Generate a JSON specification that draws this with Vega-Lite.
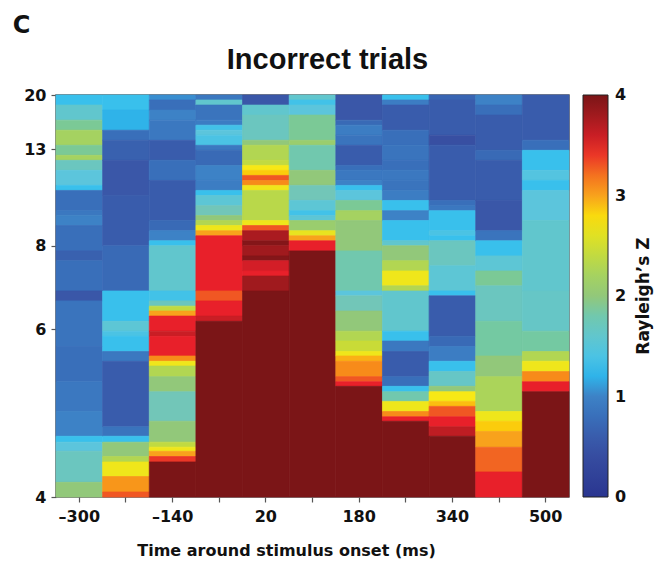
{
  "$schema": "https://vega.github.io/schema/vega-lite/v6.json",
  "width": 513,
  "height": 402,
  "autosize": {"type": "none"},
  "padding": {"left": 56, "top": 95, "right": 89, "bottom": 64},
  "background": "white",
  "config": {
    "view": {"stroke": "#5a5a5a", "strokeWidth": 1.5},
    "axis": {
      "labelFont": "DejaVu Sans", "labelFontWeight": "bold", "labelFontSize": 16, "labelColor": "#111",
      "titleFont": "DejaVu Sans", "titleFontWeight": "bold", "titleColor": "#111",
      "tickColor": "#555", "tickSize": 5, "tickWidth": 1.2, "domain": false, "grid": false
    },
    "legend": {
      "labelFont": "DejaVu Sans", "labelFontWeight": "bold", "labelFontSize": 16, "labelColor": "#111",
      "titleFont": "DejaVu Sans", "titleFontWeight": "bold", "titleColor": "#111"
    }
  },
  "title": {
    "text": "C",
    "font": "DejaVu Sans", "fontSize": 24, "fontWeight": "bold", "color": "#111",
    "anchor": "start", "frame": "bounds", "baseline": "alphabetic", "offset": -12, "dx": -11
  },
  "data": {"values": [
    {"t":-300,"a":20,"b":18.18,"z":1.3},{"t":-300,"a":18.18,"b":16,"z":1.6},{"t":-300,"a":16,"b":14.81,"z":1.9},{"t":-300,"a":14.81,"b":13.33,"z":2.2},{"t":-300,"a":13.33,"b":12.5,"z":1.9},{"t":-300,"a":12.5,"b":12.12,"z":2.2},{"t":-300,"a":12.12,"b":11.43,"z":1.7},{"t":-300,"a":11.43,"b":10.53,"z":1.5},{"t":-300,"a":10.53,"b":10.26,"z":1.3},{"t":-300,"a":10.26,"b":9.3,"z":0.8},{"t":-300,"a":9.3,"b":9.09,"z":0.9},{"t":-300,"a":9.09,"b":8.7,"z":1.0},{"t":-300,"a":8.7,"b":7.84,"z":0.8},{"t":-300,"a":7.84,"b":7.55,"z":0.65},{"t":-300,"a":7.55,"b":6.78,"z":0.8},{"t":-300,"a":6.78,"b":6.56,"z":0.55},{"t":-300,"a":6.56,"b":5.71,"z":0.85},{"t":-300,"a":5.71,"b":5.19,"z":0.8},{"t":-300,"a":5.19,"b":4.82,"z":0.9},{"t":-300,"a":4.82,"b":4.55,"z":1.0},{"t":-300,"a":4.55,"b":4.49,"z":1.3},{"t":-300,"a":4.49,"b":4.4,"z":1.5},{"t":-300,"a":4.4,"b":4.12,"z":1.7},{"t":-300,"a":4.12,"b":4,"z":2.0},
    {"t":-220,"a":20,"b":17.39,"z":1.3},{"t":-220,"a":17.39,"b":14.81,"z":1.2},{"t":-220,"a":14.81,"b":13.79,"z":0.8},{"t":-220,"a":13.79,"b":12.12,"z":0.65},{"t":-220,"a":12.12,"b":10,"z":0.55},{"t":-220,"a":10,"b":8,"z":0.6},{"t":-220,"a":8,"b":6.78,"z":0.75},{"t":-220,"a":6.78,"b":6.15,"z":1.3},{"t":-220,"a":6.15,"b":5.97,"z":1.55},{"t":-220,"a":5.97,"b":5.88,"z":1.4},{"t":-220,"a":5.88,"b":5.63,"z":1.3},{"t":-220,"a":5.63,"b":5.48,"z":0.9},{"t":-220,"a":5.48,"b":4.65,"z":0.6},{"t":-220,"a":4.65,"b":4.55,"z":0.85},{"t":-220,"a":4.55,"b":4.49,"z":1.3},{"t":-220,"a":4.49,"b":4.35,"z":2.0},{"t":-220,"a":4.35,"b":4.3,"z":2.3},{"t":-220,"a":4.3,"b":4.17,"z":2.7},{"t":-220,"a":4.17,"b":4.04,"z":3.05},{"t":-220,"a":4.04,"b":4,"z":3.3},
    {"t":-140,"a":20,"b":19.05,"z":1.05},{"t":-140,"a":19.05,"b":17.39,"z":0.8},{"t":-140,"a":17.39,"b":16,"z":1.0},{"t":-140,"a":16,"b":13.79,"z":0.9},{"t":-140,"a":13.79,"b":12.12,"z":0.6},{"t":-140,"a":12.12,"b":10.81,"z":0.8},{"t":-140,"a":10.81,"b":8.89,"z":0.6},{"t":-140,"a":8.89,"b":8.51,"z":0.75},{"t":-140,"a":8.51,"b":8.16,"z":1.0},{"t":-140,"a":8.16,"b":8,"z":1.3},{"t":-140,"a":8,"b":6.78,"z":1.6},{"t":-140,"a":6.78,"b":6.56,"z":1.35},{"t":-140,"a":6.56,"b":6.45,"z":1.7},{"t":-140,"a":6.45,"b":6.35,"z":2.4},{"t":-140,"a":6.35,"b":6.25,"z":3.0},{"t":-140,"a":6.25,"b":5.97,"z":3.45},{"t":-140,"a":5.97,"b":5.88,"z":3.6},{"t":-140,"a":5.88,"b":5.56,"z":3.45},{"t":-140,"a":5.56,"b":5.48,"z":3.1},{"t":-140,"a":5.48,"b":5.41,"z":2.7},{"t":-140,"a":5.41,"b":5.26,"z":2.3},{"t":-140,"a":5.26,"b":5.06,"z":2.0},{"t":-140,"a":5.06,"b":4.71,"z":1.75},{"t":-140,"a":4.71,"b":4.49,"z":2.0},{"t":-140,"a":4.49,"b":4.44,"z":2.4},{"t":-140,"a":4.44,"b":4.4,"z":2.7},{"t":-140,"a":4.4,"b":4.35,"z":3.0},{"t":-140,"a":4.35,"b":4.3,"z":3.4},{"t":-140,"a":4.3,"b":4,"z":4},
    {"t":-60,"a":20,"b":19.05,"z":0.9},{"t":-60,"a":19.05,"b":18.18,"z":1.6},{"t":-60,"a":18.18,"b":16,"z":0.85},{"t":-60,"a":16,"b":15.38,"z":0.95},{"t":-60,"a":15.38,"b":14.81,"z":1.35},{"t":-60,"a":14.81,"b":14.29,"z":1.5},{"t":-60,"a":14.29,"b":13.33,"z":1.4},{"t":-60,"a":13.33,"b":12.9,"z":0.9},{"t":-60,"a":12.9,"b":11.76,"z":0.75},{"t":-60,"a":11.76,"b":10.81,"z":1.0},{"t":-60,"a":10.81,"b":10.26,"z":0.95},{"t":-60,"a":10.26,"b":10,"z":1.3},{"t":-60,"a":10,"b":9.52,"z":1.55},{"t":-60,"a":9.52,"b":9.09,"z":1.75},{"t":-60,"a":9.09,"b":8.89,"z":2.0},{"t":-60,"a":8.89,"b":8.7,"z":2.3},{"t":-60,"a":8.7,"b":8.51,"z":2.7},{"t":-60,"a":8.51,"b":8.33,"z":3.0},{"t":-60,"a":8.33,"b":6.78,"z":3.45},{"t":-60,"a":6.78,"b":6.56,"z":3.3},{"t":-60,"a":6.56,"b":6.25,"z":3.45},{"t":-60,"a":6.25,"b":6.15,"z":3.6},{"t":-60,"a":6.15,"b":4,"z":4},
    {"t":20,"a":20,"b":18.18,"z":0.55},{"t":20,"a":18.18,"b":16.67,"z":1.6},{"t":20,"a":16.67,"b":13.79,"z":1.7},{"t":20,"a":13.79,"b":13.33,"z":2.0},{"t":20,"a":13.33,"b":12.12,"z":2.3},{"t":20,"a":12.12,"b":11.76,"z":2.4},{"t":20,"a":11.76,"b":11.43,"z":2.75},{"t":20,"a":11.43,"b":11.11,"z":2.85},{"t":20,"a":11.11,"b":10.81,"z":3.3},{"t":20,"a":10.81,"b":10.53,"z":3.1},{"t":20,"a":10.53,"b":10.26,"z":2.7},{"t":20,"a":10.26,"b":8.89,"z":2.35},{"t":20,"a":8.89,"b":8.7,"z":2.7},{"t":20,"a":8.7,"b":8.51,"z":3.3},{"t":20,"a":8.51,"b":8.16,"z":3.75},{"t":20,"a":8.16,"b":8,"z":3.95},{"t":20,"a":8,"b":7.69,"z":3.8},{"t":20,"a":7.69,"b":7.55,"z":3.95},{"t":20,"a":7.55,"b":7.27,"z":3.55},{"t":20,"a":7.27,"b":7.14,"z":3.45},{"t":20,"a":7.14,"b":6.78,"z":3.8},{"t":20,"a":6.78,"b":4,"z":4},
    {"t":100,"a":20,"b":19.05,"z":1.6},{"t":100,"a":19.05,"b":18.18,"z":1.35},{"t":100,"a":18.18,"b":16.67,"z":1.5},{"t":100,"a":16.67,"b":13.79,"z":1.9},{"t":100,"a":13.79,"b":13.33,"z":2.1},{"t":100,"a":13.33,"b":11.43,"z":1.8},{"t":100,"a":11.43,"b":10.53,"z":2.0},{"t":100,"a":10.53,"b":9.76,"z":1.75},{"t":100,"a":9.76,"b":9.3,"z":1.55},{"t":100,"a":9.3,"b":9.09,"z":1.35},{"t":100,"a":9.09,"b":8.89,"z":1.55},{"t":100,"a":8.89,"b":8.51,"z":2.1},{"t":100,"a":8.51,"b":8.33,"z":2.65},{"t":100,"a":8.33,"b":8.16,"z":3.0},{"t":100,"a":8.16,"b":7.84,"z":3.45},{"t":100,"a":7.84,"b":4,"z":4},
    {"t":180,"a":20,"b":16,"z":0.55},{"t":180,"a":16,"b":15.38,"z":0.75},{"t":180,"a":15.38,"b":14.29,"z":0.95},{"t":180,"a":14.29,"b":13.33,"z":0.85},{"t":180,"a":13.33,"b":11.76,"z":0.6},{"t":180,"a":11.76,"b":11.43,"z":0.8},{"t":180,"a":11.43,"b":10.81,"z":0.9},{"t":180,"a":10.81,"b":10.53,"z":1.0},{"t":180,"a":10.53,"b":10.26,"z":1.3},{"t":180,"a":10.26,"b":9.76,"z":1.5},{"t":180,"a":9.76,"b":9.3,"z":1.9},{"t":180,"a":9.3,"b":8.89,"z":2.2},{"t":180,"a":8.89,"b":7.84,"z":2.0},{"t":180,"a":7.84,"b":6.78,"z":1.8},{"t":180,"a":6.78,"b":6.67,"z":1.5},{"t":180,"a":6.67,"b":6.35,"z":1.75},{"t":180,"a":6.35,"b":5.97,"z":2.0},{"t":180,"a":5.97,"b":5.8,"z":2.3},{"t":180,"a":5.8,"b":5.63,"z":2.45},{"t":180,"a":5.63,"b":5.56,"z":2.7},{"t":180,"a":5.56,"b":5.48,"z":2.95},{"t":180,"a":5.48,"b":5.26,"z":3.1},{"t":180,"a":5.26,"b":5.19,"z":3.3},{"t":180,"a":5.19,"b":5.13,"z":3.45},{"t":180,"a":5.13,"b":4,"z":4},
    {"t":260,"a":20,"b":19.05,"z":1.3},{"t":260,"a":19.05,"b":18.18,"z":0.95},{"t":260,"a":18.18,"b":14.81,"z":0.6},{"t":260,"a":14.81,"b":13.33,"z":0.8},{"t":260,"a":13.33,"b":12.12,"z":0.85},{"t":260,"a":12.12,"b":11.43,"z":0.8},{"t":260,"a":11.43,"b":10.81,"z":0.9},{"t":260,"a":10.81,"b":10.26,"z":0.85},{"t":260,"a":10.26,"b":9.76,"z":0.95},{"t":260,"a":9.76,"b":9.3,"z":1.3},{"t":260,"a":9.3,"b":8.89,"z":1.0},{"t":260,"a":8.89,"b":8.16,"z":1.3},{"t":260,"a":8.16,"b":8,"z":1.6},{"t":260,"a":8,"b":7.55,"z":2.0},{"t":260,"a":7.55,"b":7.27,"z":2.3},{"t":260,"a":7.27,"b":6.9,"z":2.7},{"t":260,"a":6.9,"b":6.78,"z":2.3},{"t":260,"a":6.78,"b":5.97,"z":1.6},{"t":260,"a":5.97,"b":5.8,"z":1.3},{"t":260,"a":5.8,"b":5.63,"z":0.9},{"t":260,"a":5.63,"b":5.26,"z":0.6},{"t":260,"a":5.26,"b":5.13,"z":0.8},{"t":260,"a":5.13,"b":5.06,"z":1.3},{"t":260,"a":5.06,"b":4.94,"z":1.8},{"t":260,"a":4.94,"b":4.82,"z":2.7},{"t":260,"a":4.82,"b":4.76,"z":3.1},{"t":260,"a":4.76,"b":4.71,"z":3.45},{"t":260,"a":4.71,"b":4,"z":4},
    {"t":340,"a":20,"b":19.05,"z":0.7},{"t":340,"a":19.05,"b":14.29,"z":0.6},{"t":340,"a":14.29,"b":13.33,"z":0.45},{"t":340,"a":13.33,"b":9.76,"z":0.6},{"t":340,"a":9.76,"b":9.52,"z":0.8},{"t":340,"a":9.52,"b":9.3,"z":0.9},{"t":340,"a":9.3,"b":8.51,"z":1.3},{"t":340,"a":8.51,"b":8.33,"z":1.4},{"t":340,"a":8.33,"b":8.16,"z":1.3},{"t":340,"a":8.16,"b":7.41,"z":1.7},{"t":340,"a":7.41,"b":6.78,"z":1.55},{"t":340,"a":6.78,"b":6.67,"z":1.3},{"t":340,"a":6.67,"b":5.88,"z":0.6},{"t":340,"a":5.88,"b":5.71,"z":0.75},{"t":340,"a":5.71,"b":5.48,"z":0.95},{"t":340,"a":5.48,"b":5.33,"z":1.3},{"t":340,"a":5.33,"b":5.13,"z":1.65},{"t":340,"a":5.13,"b":5.06,"z":2.0},{"t":340,"a":5.06,"b":4.94,"z":2.75},{"t":340,"a":4.94,"b":4.88,"z":2.9},{"t":340,"a":4.88,"b":4.76,"z":3.3},{"t":340,"a":4.76,"b":4.65,"z":3.45},{"t":340,"a":4.65,"b":4.55,"z":3.65},{"t":340,"a":4.55,"b":4,"z":4},
    {"t":420,"a":20,"b":18.18,"z":1.0},{"t":420,"a":18.18,"b":16.67,"z":0.8},{"t":420,"a":16.67,"b":12.9,"z":0.6},{"t":420,"a":12.9,"b":12.12,"z":0.75},{"t":420,"a":12.12,"b":9.76,"z":0.6},{"t":420,"a":9.76,"b":8.51,"z":0.55},{"t":420,"a":8.51,"b":8.16,"z":0.85},{"t":420,"a":8.16,"b":7.69,"z":1.3},{"t":420,"a":7.69,"b":7.27,"z":1.55},{"t":420,"a":7.27,"b":6.9,"z":1.9},{"t":420,"a":6.9,"b":6.15,"z":1.7},{"t":420,"a":6.15,"b":5.56,"z":1.85},{"t":420,"a":5.56,"b":5.26,"z":2.0},{"t":420,"a":5.26,"b":4.82,"z":2.25},{"t":420,"a":4.82,"b":4.71,"z":2.7},{"t":420,"a":4.71,"b":4.6,"z":2.85},{"t":420,"a":4.6,"b":4.44,"z":3.0},{"t":420,"a":4.44,"b":4.21,"z":3.25},{"t":420,"a":4.21,"b":4,"z":3.45},
    {"t":500,"a":20,"b":13.79,"z":0.6},{"t":500,"a":13.79,"b":12.9,"z":0.8},{"t":500,"a":12.9,"b":11.43,"z":1.3},{"t":500,"a":11.43,"b":10.81,"z":1.45},{"t":500,"a":10.81,"b":10.26,"z":1.3},{"t":500,"a":10.26,"b":8.89,"z":1.5},{"t":500,"a":8.89,"b":6.78,"z":1.6},{"t":500,"a":6.78,"b":5.97,"z":1.65},{"t":500,"a":5.97,"b":5.63,"z":1.85},{"t":500,"a":5.63,"b":5.48,"z":2.3},{"t":500,"a":5.48,"b":5.33,"z":2.7},{"t":500,"a":5.33,"b":5.19,"z":3.1},{"t":500,"a":5.19,"b":5.06,"z":3.45},{"t":500,"a":5.06,"b":4,"z":4}
  ]},
  "mark": {"type": "rect", "strokeWidth": 0.7, "stroke": {"expr": "scale('color', datum.z)"}},
  "encoding": {
    "x": {
      "field": "t", "type": "ordinal",
      "scale": {"paddingInner": 0, "paddingOuter": 0},
      "axis": {
        "labelAngle": 0, "labelPadding": 6,
        "labelExpr": "(datum.value + 300) % 160 == 0 ? replace(datum.label, '-', '–') : ''",
        "title": "Time around stimulus onset (ms)", "titleFontSize": 16,
        "titleX": 230, "titleY": 58, "titleAlign": "center", "titleBaseline": "alphabetic"
      }
    },
    "y": {
      "field": "a", "type": "quantitative",
      "scale": {"type": "pow", "exponent": -1, "domain": [4, 20], "zero": false, "nice": false},
      "axis": {
        "values": [4, 6, 8, 13, 20], "labelPadding": 5,
        "title": "Incorrect trials", "titleAngle": 0, "titleFontSize": 29, "titleFont": "Liberation Sans",
        "titleX": 271, "titleY": -27, "titleAlign": "center", "titleBaseline": "alphabetic"
      }
    },
    "y2": {"field": "b"},
    "color": {
      "field": "z", "type": "quantitative",
      "scale": {
        "domain": [0, 0.5, 1, 1.25, 1.5, 1.75, 2, 2.5, 2.75, 3, 3.25, 3.45, 3.8, 4],
        "range": ["#2a3590", "#3a52a4", "#3d82c6", "#2fbff0", "#5cc5dc", "#72c6b8", "#92c87a", "#d2dc2c", "#f7e816", "#f8a21c", "#f26522", "#e8202a", "#a01a1e", "#7b1517"]
      },
      "legend": {
        "type": "gradient",
        "orient": "none", "legendX": 527, "legendY": 0, "direction": "vertical",
        "gradientLength": 402, "gradientThickness": 25,
        "gradientStrokeColor": "#222", "gradientStrokeWidth": 1,
        "values": [0, 1, 2, 3, 4], "format": "d", "labelOffset": 7,
        "title": "Rayleigh’s Z", "titleOrient": "right", "titleFontSize": 17,
        "titleAnchor": "middle", "titlePadding": 18,
        "encode": {
          "title": {"update": {"angle": {"value": 270}, "baseline": {"value": "middle"}}},
          "labels": {"update": {"baseline": {"value": "middle"}}}
        }
      }
    }
  }
}
